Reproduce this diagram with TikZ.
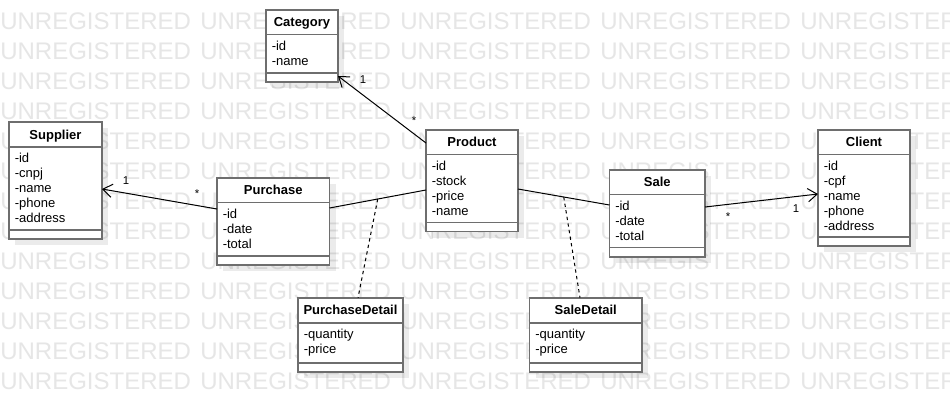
\documentclass[tikz,border=0pt]{standalone}
\usepackage{fontspec}
\setmainfont{Liberation Sans}
\usetikzlibrary{arrows.meta,calc}
\definecolor{boxc}{HTML}{6E6E6E}
\definecolor{wmc}{HTML}{E6E6E6}

\tikzset{
  classbox/.style={draw=boxc, line width=1.4pt, fill=white, inner sep=0pt, outer sep=0pt, rectangle},
  sepline/.style={draw=boxc, line width=1.4pt},
  boxshadow/.style={fill=black, opacity=0.08},
  titletext/.style={font=\fontsize{9.75}{11.25}\selectfont\bfseries, inner sep=0pt, anchor=base},
  attrtext/.style={font=\fontsize{9.75}{11.25}\selectfont, inner sep=0pt, anchor=base west},
  wmtext/.style={font=\fontsize{18}{18}\selectfont, text=wmc, inner sep=0pt, anchor=base west},
  assoc/.style={draw=black, line width=0.75pt},
  navig/.style={assoc, -{Straight Barb[length=7pt,width=10pt,line width=0.75pt]}},
  dashlink/.style={draw=black, line width=0.75pt, dash pattern=on 2.5pt off 2.5pt},
  mult/.style={font=\fontsize{8.5}{10}\selectfont, inner sep=0pt, anchor=base},
}

\newcommand\umlclass[9]{%
  \fill[boxshadow] ({#2+6},{#3+6}) rectangle ({#4+6},{#5+6});
  \node[classbox, minimum width={(#4-#2)*0.75pt}, minimum height={(#5-#3)*0.75pt}] (#1) at ({(#2+#4)/2},{(#3+#5)/2}) {};
  \draw[sepline] (#2,#6) -- (#4,#6);
  \draw[sepline] (#2,#7) -- (#4,#7);
  \node[titletext] (#1-title) at ({(#2+#4)/2},{(#3+#6)/2+4.7}) {#8};
  \node[attrtext] (#1-attrs) at ({#2+5.5},{#6+15.5}) {\begin{tabular}[t]{@{}l@{}}#9\end{tabular}};
}

\begin{document}
\begin{tikzpicture}[x=0.75pt,y=-0.75pt]
\useasboundingbox (0,0) rectangle (950,412);
\begin{scope}
  \clip (0,0) rectangle (950,412);
  \fill[white] (0,0) rectangle (950,412);
  \foreach \r in {0,...,12}{\foreach \c in {0,...,4}{%
    \node[wmtext] (wm-\r-\c) at (\c*200,29.3+\r*30) {UNREGISTERED};}}
\end{scope}

\umlclass{category}{266}{10}{338}{81.7}{34.5}{72.7}{Category}{-id\\-name}
\umlclass{supplier}{9}{122}{102}{239}{146.7}{230}{Supplier}{-id\\-cnpj\\-name\\-phone\\-address}
\umlclass{purchase}{217}{178}{329.5}{265}{202.5}{255.7}{Purchase}{-id\\-date\\-total}
\umlclass{product}{426}{130}{518}{231.5}{154.5}{222.5}{Product}{-id\\-stock\\-price\\-name}
\umlclass{sale}{609.5}{170}{705}{257}{194.5}{247.5}{Sale}{-id\\-date\\-total}
\umlclass{client}{818}{130}{910}{246}{154.5}{237}{Client}{-id\\-cpf\\-name\\-phone\\-address}
\umlclass{purchasedetail}{298}{297.7}{403}{371.7}{322.7}{362.7}{PurchaseDetail}{-quantity\\-price}
\umlclass{saledetail}{529.5}{297.7}{642}{371.7}{322.7}{362.7}{SaleDetail}{-quantity\\-price}

\draw[navig] ($(product.north west)+(0,13)$) -- ($(category.south east)+(0,-5.7)$);
\draw[navig] ($(purchase.north west)+(0,31)$) -- ($(supplier.north east)+(0,67)$);
\draw[assoc] ($(purchase.north east)+(0,30)$) -- coordinate[pos=0.5] (pp-mid) ($(product.north west)+(0,60)$);
\draw[assoc] ($(product.north east)+(0,59)$) -- coordinate[pos=0.5] (ps-mid) ($(sale.north west)+(0,35)$);
\draw[navig] ($(sale.north east)+(0,37)$) -- ($(client.north west)+(0,64)$);
\draw[dashlink] (pp-mid) -- ($(purchasedetail.north west)+(60,0)$);
\draw[dashlink] (ps-mid) -- ($(saledetail.north west)+(50.5,0)$);

\node[mult] (m-cat) at (363,83) {1};
\node[mult] (m-prod) at (414,124.5) {*};
\node[mult] (m-sup) at (126,184) {1};
\node[mult] (m-pur) at (197,197.5) {*};
\node[mult] (m-sale) at (728,220.5) {*};
\node[mult] (m-cli) at (796,212) {1};
\end{tikzpicture}
\end{document}
